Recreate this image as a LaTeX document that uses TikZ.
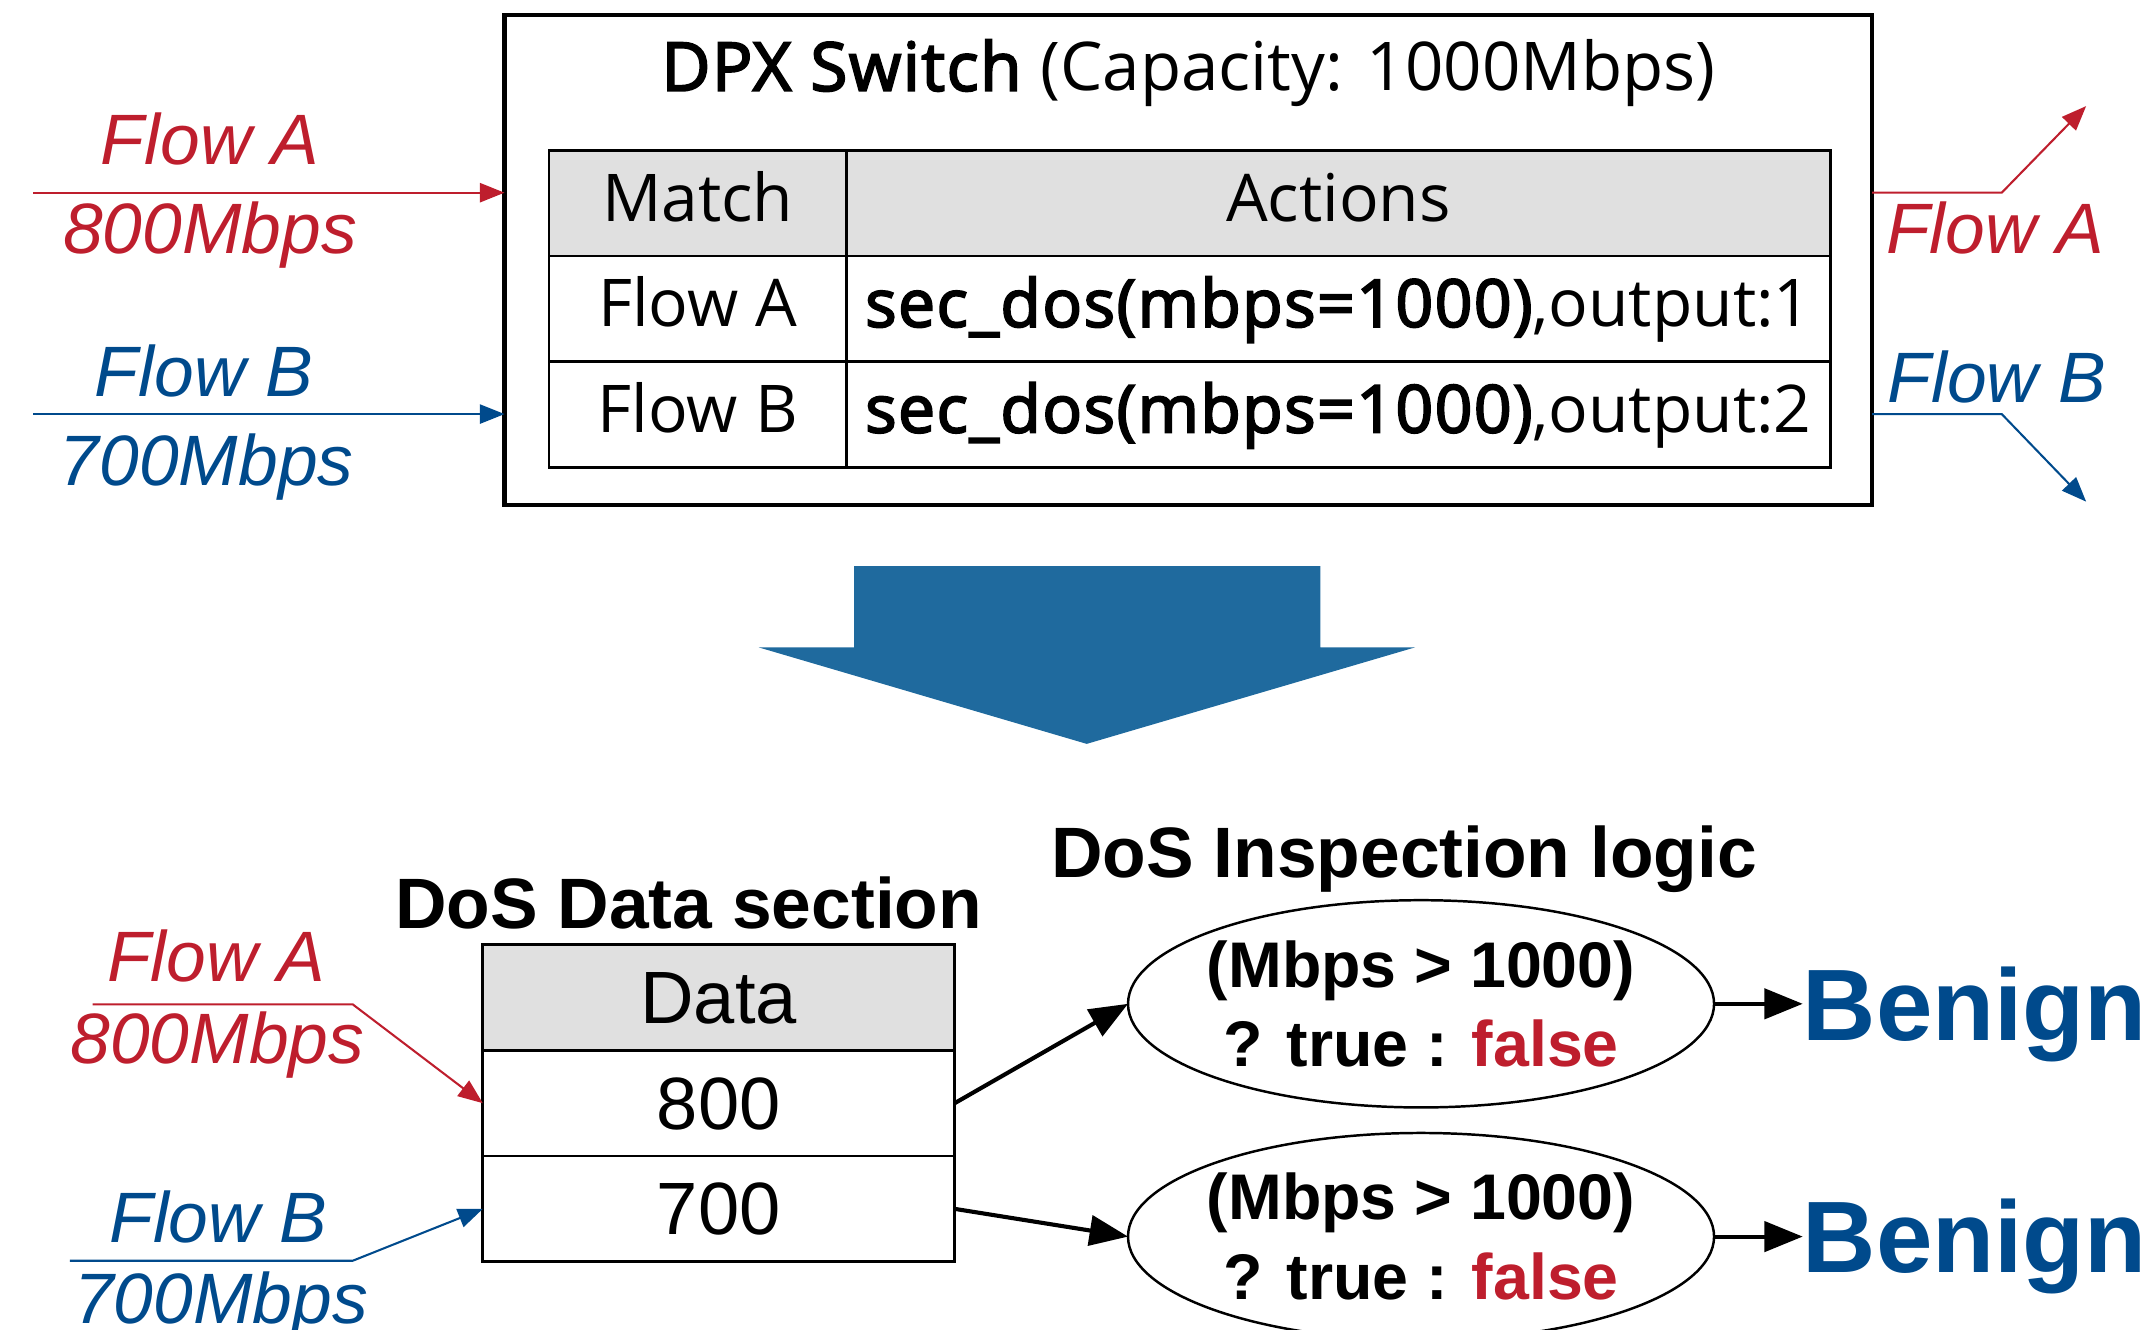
\documentclass[tikz,border=0pt]{standalone}
\usepackage{fontspec}
\setmainfont{Liberation Sans}
\newfontfamily\switchfont{Open Sans}[BoldFont={Open Sans}, BoldFeatures={FakeBold=3, LetterSpace=2.3}]
\usetikzlibrary{arrows.meta, positioning, shapes.geometric}

\newcommand{\fsize}[1]{\fontsize{#1}{#1}\selectfont}

% one inspection ellipse with its verdict
\newcommand{\inspect}[3]{
    \node[logic] (#1) at (1035.4,#2) {(Mbps > 1000)\\? true : \textcolor{falsered}{false}};
    \node[benign] (#1ok) at (1313.5,#3) {Benign};
    \draw[link] (#1.east) -- (#1.east -| #1ok.west);
}

\begin{document}
\begin{tikzpicture}[x=1pt, y=-1pt]
            \definecolor{flowred}{RGB}{190,30,45}
            \definecolor{flowblue}{RGB}{0,74,140}
            \definecolor{falsered}{RGB}{190,30,45}
            \definecolor{bigblue}{RGB}{31,106,158}
            \definecolor{headgray}{RGB}{224,224,224}

            \tikzstyle{every node} = [inner sep=0pt, outer sep=0pt]
            \tikzstyle{cell} = [draw, line width=2pt, minimum height=77pt, text height=36pt, text depth=10pt, font=\switchfont\fsize{48}]
            \tikzstyle{dcell} = [draw, line width=2pt, minimum width=343.8pt, minimum height=77pt, text height=38pt, text depth=0pt, font=\fsize{54}]
            \tikzstyle{flowtxt} = [anchor=base, font=\itshape\fsize{52}]
            \tikzstyle{flowa} = [flowred, line width=1.5pt, -{Triangle[length=18pt, width=14pt]}]
            \tikzstyle{flowb} = [flowblue, line width=1.5pt, -{Triangle[length=18pt, width=14pt]}]
            \tikzstyle{headline} = [anchor=base, font=\bfseries\fsize{52}]
            \tikzstyle{logic} = [draw, ellipse, line width=1.8pt, inner xsep=-8pt, minimum width=427pt, minimum height=151pt, align=center, font=\bfseries\fontsize{47}{58}\selectfont]
            \tikzstyle{benign} = [anchor=base west, text=flowblue, font=\bfseries\fsize{74}]
            \tikzstyle{link} = [line width=3pt, -{Triangle[length=28pt, width=22pt]}]

            \useasboundingbox (0,0) rectangle (1568,969);

            % switch with its flow table
            \node[draw, line width=3.5pt, minimum width=996.4pt, minimum height=357pt] (switch) at (865.8,189.5) {};
            \node[anchor=base, font=\switchfont\fsize{49}] (title) at (866,66.1) {\textbf{DPX Switch} (Capacity: 1000Mbps)};

            \node[cell, fill=headgray, minimum width=216.7pt] (match) at (508.4,148.1) {Match};
            \node[cell, fill=headgray, minimum width=716.8pt, right=0pt of match] (actions) {Actions};
            \node[cell, minimum width=216.7pt, below=0pt of match] (matcha) {Flow A};
            \node[cell, minimum width=716.8pt, below=0pt of actions] (actiona) {\textbf{sec\_dos(mbps=1000)},output:1};
            \node[cell, minimum width=216.7pt, below=0pt of matcha] (matchb) {Flow B};
            \node[cell, minimum width=716.8pt, below=0pt of actiona] (actionb) {\textbf{sec\_dos(mbps=1000)},output:2};

            % flows in and out
            \coordinate (ina) at (24.3,140.4);
            \coordinate (inb) at (24.3,301.7);
            \draw[flowa] (ina) -- (ina -| switch.west);
            \draw[flowb] (inb) -- (inb -| switch.west);
            \node[flowtxt, text=flowred] (inaname) at (153,120) {Flow A};
            \node[flowtxt, text=flowred] (inarate) at (153,184.5) {800Mbps};
            \node[flowtxt, text=flowblue] (inbname) at (148.6,289) {Flow B};
            \node[flowtxt, text=flowblue] (inbrate) at (150.6,353.4) {700Mbps};

            \coordinate (outakink) at (1458.5,140.4);
            \coordinate (outaend) at (1520,77.3);
            \coordinate (outbkink) at (1458.5,301.7);
            \coordinate (outbend) at (1520,365.5);
            \draw[flowa] (switch.east |- ina) -- (outakink) -- (outaend);
            \draw[flowb] (switch.east |- inb) -- (outbkink) -- (outbend);
            \node[flowtxt, text=flowred] (outaname) at (1453.7,185) {Flow A};
            \node[flowtxt, text=flowblue] (outbname) at (1454.8,293.4) {Flow B};

            % big arrow
            \fill[bigblue] (622.3,412.4) -- (962,412.4) -- (962,471.7) -- (1031,471.7) -- (791.8,542) -- (552.8,471.7) -- (622.3,471.7) -- cycle;

            % data section
            \node[headline] (datatitle) at (501.8,676.4) {DoS Data section};
            \node[dcell, fill=headgray] (data) at (523.7,726.8) {Data};
            \node[dcell, below=0pt of data] (d800) {800};
            \node[dcell, below=0pt of d800] (d700) {700};

            \coordinate (lowastart) at (67.4,731.8);
            \coordinate (lowakink) at (257,731.8);
            \coordinate (lowbstart) at (51,918.6);
            \coordinate (lowbkink) at (257,918.6);
            \draw[flowa] (lowastart) -- (lowakink) -- (d800.west);
            \draw[flowb] (lowbstart) -- (lowbkink) -- (d700.west);
            \node[flowtxt, text=flowred] (lowaname) at (157.5,715.3) {Flow A};
            \node[flowtxt, text=flowred] (lowarate) at (158.4,774.6) {800Mbps};
            \node[flowtxt, text=flowblue] (lowbname) at (159.2,905.5) {Flow B};
            \node[flowtxt, text=flowblue] (lowbrate) at (161,964) {700Mbps};

            % inspection logic
            \node[headline] (logictitle) at (1023,639) {DoS Inspection logic};
            \inspect{logica}{731.4}{758.2}
            \inspect{logicb}{901}{927}
            \draw[link] (d800.east) -- (logica.west);
            \draw[link] (d700.east) -- (logicb.west);
\end{tikzpicture}
\end{document}
